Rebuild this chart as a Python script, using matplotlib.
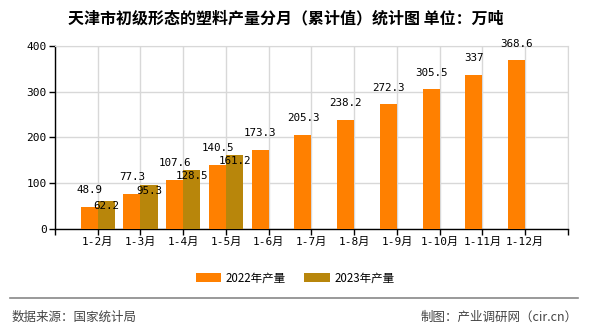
import numpy as np
import matplotlib
matplotlib.use('Agg')
import matplotlib.pyplot as plt
from matplotlib.lines import Line2D

months = ['1-2月', '1-3月', '1-4月', '1-5月', '1-6月', '1-7月',
          '1-8月', '1-9月', '1-10月', '1-11月', '1-12月']
vals_2022 = [48.9, 77.3, 107.6, 140.5, 173.3, 205.3, 238.2, 272.3, 305.5, 337, 368.6]
vals_2023 = [62.2, 95.3, 128.5, 161.2]
series_names = ['2022年产量', '2023年产量']
yticks = [0, 100, 200, 300, 400]

c22 = '#FF8000'
c23 = '#B8860B'
mono = ['DejaVu Sans Mono', 'Noto Sans CJK SC']
cjk = ['Noto Sans CJK SC', 'DejaVu Sans']

fig = plt.figure(figsize=(5.9, 3.3), dpi=100)
ax = fig.add_axes([0.0932, 0.3061, 0.8695, 0.5545])

x = np.arange(1, len(months) + 1)
w = 0.4
b1 = ax.bar(x - w/2, vals_2022, w, color=c22, label=series_names[0], zorder=3)
x23 = x[:len(vals_2023)]
b2 = ax.bar(x23 + w/2, vals_2023, w, color=c23, label=series_names[1], zorder=3)

# value labels
for xi, v in zip(x, vals_2022):
    ax.annotate('%g' % v, (xi - w/2, v), xytext=(0, 12), textcoords='offset points',
                ha='center', va='center', fontsize=7.8, family=mono, zorder=4)
for xi, v in zip(x23, vals_2023):
    ax.annotate('%g' % v, (xi + w/2, v), xytext=(0, -4), textcoords='offset points',
                ha='center', va='center', fontsize=7.8, family=mono, zorder=4)

ax.set_xlim(0, 12)
ax.set_ylim(0, 400)
ax.set_yticks(yticks)
ax.set_yticklabels([str(t) for t in yticks], family=mono, fontsize=8)
ax.set_xticks(np.arange(0, 13))
ax.set_xticklabels([''] + months + [''], family=mono, fontsize=8)
ax.tick_params(axis='both', length=4, width=1, color='black', pad=2)

ax.grid(True, color='#d8d8d8', linewidth=1, zorder=0)
ax.set_axisbelow(True)
for s in ['top', 'right']:
    ax.spines[s].set_color('#d8d8d8')
for s in ['left', 'bottom']:
    ax.spines[s].set_color('black')
    ax.spines[s].set_linewidth(1)

fig.text(0.115, 0.945, '天津市初级形态的塑料产量分月（累计值）统计图 单位：万吨',
         fontsize=11.5, fontweight='bold', family=cjk, ha='left', va='center')

leg = fig.legend(handles=[b1, b2], labels=series_names, loc='center',
                 bbox_to_anchor=(0.5, 0.158), ncol=2, frameon=False,
                 prop={'family': cjk, 'size': 8.3}, handlelength=2.2,
                 handleheight=0.8, columnspacing=1.6, handletextpad=0.4)

fig.add_artist(Line2D([10/590, 578/590], [1 - 298/330, 1 - 298/330],
                      color='#888888', linewidth=1.2))
fig.text(12/590, 1 - 317/330, '数据来源：国家统计局', fontsize=9, color='#444444',
         family=cjk, ha='left', va='center')
fig.text(578/590, 1 - 317/330, '制图：产业调研网（cir.cn）', fontsize=9, color='#444444',
         family=cjk, ha='right', va='center')

fig.savefig('out.png', dpi=100)
